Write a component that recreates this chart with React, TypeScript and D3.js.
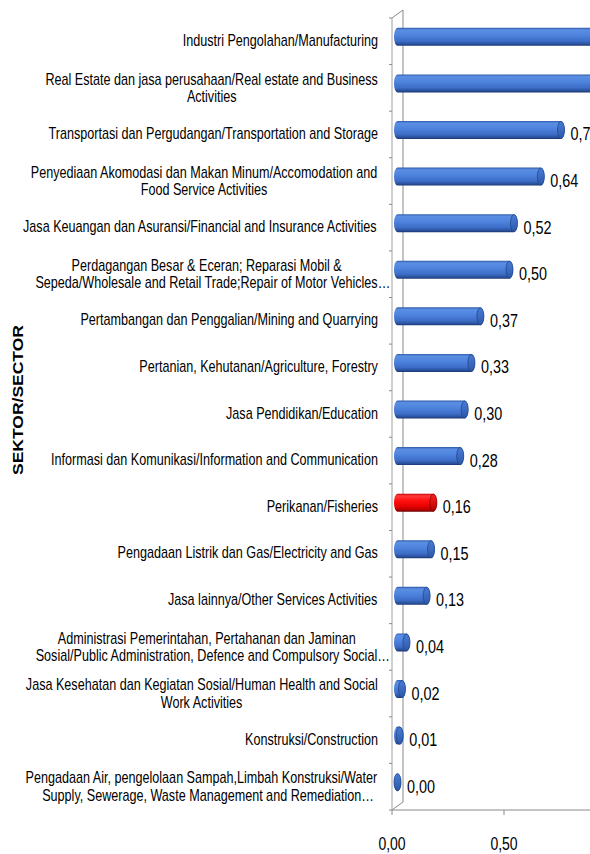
import React, { useMemo } from "react";
import * as d3 from "d3";

const categories: string[][] = [
  ["Industri Pengolahan/Manufacturing"],
  ["Real Estate dan jasa perusahaan/Real estate and Business", "Activities"],
  ["Transportasi dan Pergudangan/Transportation and Storage"],
  ["Penyediaan Akomodasi dan Makan Minum/Accomodation and", "Food Service Activities"],
  ["Jasa Keuangan dan Asuransi/Financial and Insurance Activities"],
  ["Perdagangan Besar & Eceran; Reparasi Mobil &", "Sepeda/Wholesale and Retail Trade;Repair of Motor Vehicles…"],
  ["Pertambangan dan Penggalian/Mining and Quarrying"],
  ["Pertanian, Kehutanan/Agriculture, Forestry"],
  ["Jasa Pendidikan/Education"],
  ["Informasi dan Komunikasi/Information and Communication"],
  ["Perikanan/Fisheries"],
  ["Pengadaan Listrik dan Gas/Electricity and Gas"],
  ["Jasa lainnya/Other Services Activities"],
  ["Administrasi Pemerintahan, Pertahanan dan Jaminan", "Sosial/Public Administration, Defence and Compulsory Social…"],
  ["Jasa Kesehatan dan Kegiatan Sosial/Human Health and Social", "Work Activities"],
  ["Konstruksi/Construction"],
  ["Pengadaan Air, pengelolaan Sampah,Limbah Konstruksi/Water", "Supply, Sewerage, Waste Management and Remediation…"],
];
const values: number[] = [1.1, 0.97, 0.73, 0.64, 0.52, 0.5, 0.37, 0.33, 0.3, 0.28, 0.16, 0.15, 0.13, 0.04, 0.02, 0.01, 0.0];
const highlightIndex = 10;
const xTicks: number[] = [0, 0.5, 1];
const axisTitle = "SEKTOR/SECTOR";

const W = 590;
const H = 854;
const FONT = "'Liberation Sans', Arial, sans-serif";
const CAT_FS = 12.6;
const CAT_SY = 1.25;
const VAL_FS = 14.4;
const VAL_SY = 1.25;

const fmt = (v: number) => d3.format(".2f")(v).replace(".", ",");

export default function App() {
  const x = d3.scaleLinear().domain([0, 1]).range([392, 616]);
  const y = d3.scaleBand<number>().domain(d3.range(values.length)).range([18, 810]);
  const DX = 11, DY = -8;
  const bdx = 5.5, bdy = -4.5;
  const hh = 9, rx = 3.5;

  const measure = useMemo(() => {
    const c = document.createElement("canvas").getContext("2d")!;
    c.font = `${CAT_FS}px ${FONT}`;
    return (s: string) => c.measureText(s).width;
  }, []);

  const x0 = x(0);
  const yTop = y.range()[0];
  const yBot = y.range()[1];

  return (
    <svg width={W} height={H} style={{ position: "absolute", left: 0, top: 0, background: "#fff" }}>
      <defs>
        <linearGradient id="gBlue" x1="0" y1="0" x2="0" y2="1">
          <stop offset="0" stopColor="#2f5aa8" />
          <stop offset="0.12" stopColor="#5b8fe4" />
          <stop offset="0.4" stopColor="#4f84de" />
          <stop offset="0.75" stopColor="#3c6cc6" />
          <stop offset="0.92" stopColor="#284e98" />
          <stop offset="1" stopColor="#1b3670" />
        </linearGradient>
        <linearGradient id="gBlueCap" x1="0" y1="0" x2="0" y2="1">
          <stop offset="0" stopColor="#4a7cd6" />
          <stop offset="1" stopColor="#2d58a8" />
        </linearGradient>
        <linearGradient id="gRed" x1="0" y1="0" x2="0" y2="1">
          <stop offset="0" stopColor="#c00000" />
          <stop offset="0.12" stopColor="#ff3a3a" />
          <stop offset="0.4" stopColor="#ff0f0f" />
          <stop offset="0.75" stopColor="#e00000" />
          <stop offset="0.92" stopColor="#a80000" />
          <stop offset="1" stopColor="#700000" />
        </linearGradient>
        <linearGradient id="gRedCap" x1="0" y1="0" x2="0" y2="1">
          <stop offset="0" stopColor="#ff2020" />
          <stop offset="1" stopColor="#b00000" />
        </linearGradient>
      </defs>

      {/* walls / axes */}
      <line x1={x0 + DX} y1={yTop + DY} x2={x0 + DX} y2={yBot + DY} stroke="#8a8a8a" strokeWidth={1} />
      <line x1={x0} y1={yTop} x2={x0 + DX} y2={yTop + DY} stroke="#8a8a8a" strokeWidth={1} />
      <line x1={x0} y1={yBot} x2={x0 + DX} y2={yBot + DY} stroke="#8a8a8a" strokeWidth={1} />
      <line x1={x0} y1={yTop} x2={x0} y2={yBot} stroke="#a0a0a0" strokeWidth={1} />
      {d3.range(values.length + 1).map((i) => {
        const yy = yTop + i * y.step();
        return <line key={"yt" + i} x1={x0 - 3} y1={yy} x2={x0} y2={yy} stroke="#8a8a8a" strokeWidth={1} />;
      })}
      <line x1={x0} y1={yBot} x2={W + 40} y2={yBot} stroke="#8a8a8a" strokeWidth={1} />
      {xTicks.map((t) => (
        <g key={"xt" + t}>
          <line x1={x(t)} y1={yBot} x2={x(t)} y2={yBot + 5} stroke="#8a8a8a" strokeWidth={1} />
          <text
            transform={`translate(${x(t)},${yBot + 40}) scale(1,${VAL_SY})`}
            textAnchor="middle"
            fontFamily={FONT}
            fontSize={14}
            fill="#000"
          >
            {fmt(t)}
          </text>
        </g>
      ))}

      {/* bars */}
      {values.map((v, i) => {
        const rowC = (y(i) as number) + y.bandwidth() / 2;
        const yc = rowC + bdy;
        const x1 = x0 + bdx;
        const x2 = x(v) + bdx;
        const red = i === highlightIndex;
        const body = `M${x1},${yc - hh} L${x2},${yc - hh} A${rx},${hh} 0 0 1 ${x2},${yc + hh} L${x1},${yc + hh} A${rx},${hh} 0 0 1 ${x1},${yc - hh} Z`;
        return (
          <g key={"b" + i}>
            <path d={body} fill={red ? "url(#gRed)" : "url(#gBlue)"} />
            <ellipse
              cx={x2}
              cy={yc}
              rx={rx}
              ry={hh - 0.5}
              fill={red ? "url(#gRedCap)" : "url(#gBlueCap)"}
              stroke={red ? "#8a0000" : "#22468c"}
              strokeWidth={0.8}
            />
            <text
              transform={`translate(${x2 + rx + 6},${rowC + 6}) scale(1,${VAL_SY})`}
              fontFamily={FONT}
              fontSize={VAL_FS}
              fill="#000"
            >
              {fmt(v)}
            </text>
          </g>
        );
      })}

      {/* category labels */}
      {categories.map((lines, i) => {
        const rowC = (y(i) as number) + y.bandwidth() / 2;
        const clean = lines.map((l) => l.replace(/…$/, ""));
        const widths = clean.map((l) => measure(l));
        const maxW = Math.max(...widths);
        const right = 378;
        const center = right - maxW / 2;
        const lh = 17.5;
        const n = lines.length;
        return (
          <g key={"c" + i}>
            {lines.map((l, j) => (
              <text
                key={j}
                transform={`translate(${center - widths[j] / 2},${rowC + 4.5 + (n > 1 ? 1 : 0) + (j - (n - 1) / 2) * lh}) scale(1,${CAT_SY})`}
                fontFamily={FONT}
                fontSize={CAT_FS}
                fill="#000"
              >
                {l}
              </text>
            ))}
          </g>
        );
      })}

      <text
        transform={`translate(23,400) rotate(-90) scale(1.25,1)`}
        textAnchor="middle"
        fontFamily={FONT}
        fontWeight="bold"
        fontSize={14}
        fill="#000"
      >
        {axisTitle}
      </text>
    </svg>
  );
}
